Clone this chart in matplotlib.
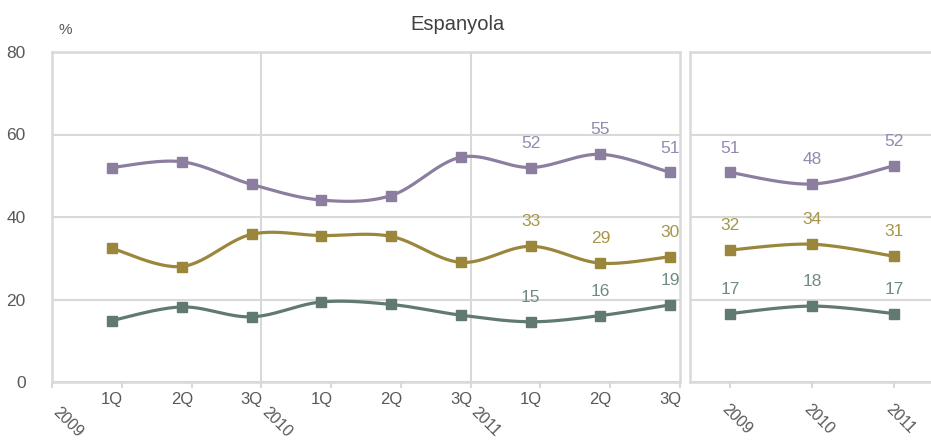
import numpy as np
import matplotlib
matplotlib.use("Agg")
import matplotlib.pyplot as plt

plt.rcParams['font.family'] = ['Liberation Sans', 'DejaVu Sans']

# ---------------- data ----------------
quarters = ["1Q", "2Q", "3Q", "1Q", "2Q", "3Q", "1Q", "2Q", "3Q"]
years = ["2009", "2010", "2011"]

purple_q = [52.0, 53.4, 47.9, 44.1, 45.2, 54.5, 52.0, 55.2, 50.8]
gold_q = [32.4, 28.0, 35.8, 35.5, 35.3, 29.0, 32.9, 28.8, 30.4]
green_q = [14.9, 18.2, 15.8, 19.4, 18.8, 16.2, 14.6, 16.1, 18.7]

purple_q_lbl = [None, None, None, None, None, None, "52", "55", "51"]
gold_q_lbl = [None, None, None, None, None, None, "33", "29", "30"]
green_q_lbl = [None, None, None, None, None, None, "15", "16", "19"]

purple_y = [50.8, 48.0, 52.4]
gold_y = [32.0, 33.4, 30.5]
green_y = [16.6, 18.4, 16.6]

purple_y_lbl = ["51", "48", "52"]
gold_y_lbl = ["32", "34", "31"]
green_y_lbl = ["17", "18", "17"]

title = "Espanyola"

# ---------------- style ----------------
C_PURPLE = "#8b7e9f"
C_GOLD = "#9a873c"
C_GREEN = "#607a70"
L_PURPLE = "#9589ad"
L_GOLD = "#a6954a"
L_GREEN = "#6f8c82"
GRID = "#d9d9d9"
TXT = "#595959"
FS = 12.5
FS_YR = 11.5


def smooth(x, y, n=30):
    """Excel-like smoothed line (Catmull-Rom / cubic Bezier, 1/6 tension)."""
    x = np.asarray(x, float)
    y = np.asarray(y, float)
    pts = np.column_stack([x, y])
    out = []
    m = len(pts)
    for i in range(m - 1):
        p0 = pts[i - 1] if i > 0 else pts[i]
        p1 = pts[i]
        p2 = pts[i + 1]
        p3 = pts[i + 2] if i + 2 < m else pts[i + 1]
        c1 = p1 + (p2 - p0) / 6.0
        c2 = p2 - (p3 - p1) / 6.0
        t = np.linspace(0, 1, n)[:, None]
        seg = ((1 - t) ** 3) * p1 + 3 * ((1 - t) ** 2) * t * c1 + 3 * (1 - t) * t ** 2 * c2 + t ** 3 * p2
        out.append(seg if i == 0 else seg[1:])
    seg = np.vstack(out)
    return seg[:, 0], seg[:, 1]


W, H = 931, 442
fig = plt.figure(figsize=(W / 100, H / 100), dpi=100)

axL = fig.add_axes([52 / W, (H - 382) / H, (680 - 52) / W, (382 - 52) / H])
axR = fig.add_axes([690 / W, (H - 382) / H, (934 - 690) / W, (382 - 52) / H])

for ax in (axL, axR):
    ax.set_ylim(0, 80)
    ax.set_yticks([0, 20, 40, 60, 80])
    ax.yaxis.grid(True, color=GRID, lw=1.5)
    ax.set_axisbelow(True)
    for s in ax.spines.values():
        s.set_color(GRID)
        s.set_linewidth(1.8)
    ax.tick_params(axis='y', length=0)

axL.tick_params(axis='y', labelsize=FS, labelcolor=TXT, pad=19)
axR.tick_params(axis='y', labelleft=False)

# ---- left panel (quarters) ----
nq = len(quarters)
xq = np.arange(nq) + 1 - 0.14
axL.set_xlim(0, nq)
axL.set_xticks(xq)
axL.set_xticklabels(quarters)
axL.tick_params(axis='x', which='major', length=0, labelsize=FS - 0.5, labelcolor=TXT, pad=7)
axL.set_xticks(np.arange(nq + 1), minor=True)
axL.tick_params(axis='x', which='minor', length=4, width=1.5, color=GRID, direction='out')
for xv in (3, 6):
    axL.axvline(xv, color=GRID, lw=1.5, zorder=0)

for vals, lbls, c, lc in ((purple_q, purple_q_lbl, C_PURPLE, L_PURPLE),
                          (gold_q, gold_q_lbl, C_GOLD, L_GOLD),
                          (green_q, green_q_lbl, C_GREEN, L_GREEN)):
    sx, sy = smooth(xq, vals)
    axL.plot(sx, sy, color=c, lw=2.3, solid_capstyle='round', zorder=3)
    axL.plot(xq, vals, ls='none', marker='s', ms=7, color=c, zorder=4)
    for x, v, lb in zip(xq, vals, lbls):
        if lb:
            axL.annotate(lb, (x, v), xytext=(0, 17.5), textcoords='offset points',
                         ha='center', va='center', fontsize=FS, color=lc, zorder=5)

for i, yr in enumerate(years):
    axL.annotate(yr, (3 * i, 0), xycoords=('data', 'axes fraction'),
                 xytext=(6, -16), textcoords='offset points', rotation=-45,
                 rotation_mode='anchor', ha='left', va='top', fontsize=FS_YR, color=TXT)

# ---- right panel (years) ----
ny = len(years)
xy = np.arange(ny)
axR.set_xlim(-0.49, ny - 0.51)
axR.set_xticks(xy)
axR.set_xticklabels([])
axR.tick_params(axis='x', length=4, width=1.5, color=GRID, direction='out')

for vals, lbls, c, lc in ((purple_y, purple_y_lbl, C_PURPLE, L_PURPLE),
                          (gold_y, gold_y_lbl, C_GOLD, L_GOLD),
                          (green_y, green_y_lbl, C_GREEN, L_GREEN)):
    sx, sy = smooth(xy, vals)
    axR.plot(sx, sy, color=c, lw=2.3, solid_capstyle='round', zorder=3)
    axR.plot(xy, vals, ls='none', marker='s', ms=7, color=c, zorder=4)
    for x, v, lb in zip(xy, vals, lbls):
        axR.annotate(lb, (x, v), xytext=(0, 17.5), textcoords='offset points',
                     ha='center', va='center', fontsize=FS, color=lc, zorder=5)

for i, yr in enumerate(years):
    axR.annotate(yr, (i, 0), xycoords=('data', 'axes fraction'),
                 xytext=(0, -14), textcoords='offset points', rotation=-45,
                 rotation_mode='anchor', ha='left', va='top', fontsize=FS_YR, color=TXT)

fig.text(457 / W, 1 - 24 / H, title, ha='center', va='center', fontsize=14.5, color="#404040")
fig.text(65 / W, 1 - 30 / H, "%", ha='center', va='center', fontsize=11, color=TXT)

fig.savefig("out.png", dpi=100)
